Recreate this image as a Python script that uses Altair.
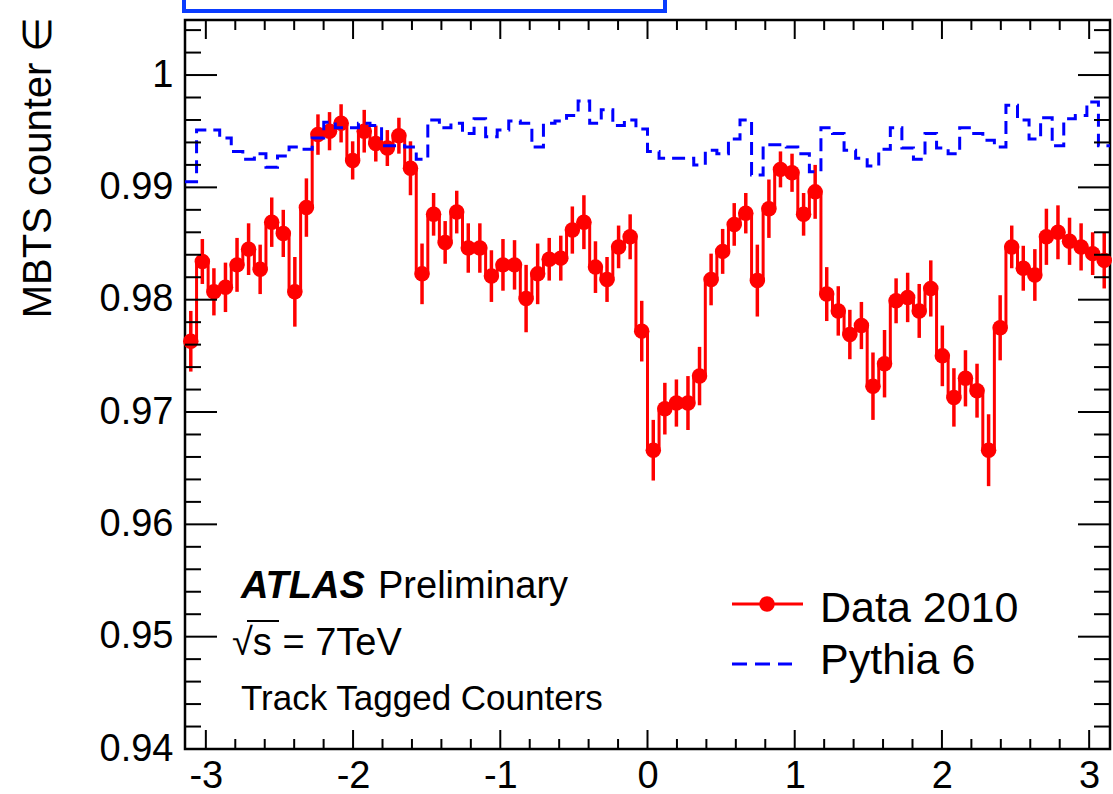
import altair as alt
import numpy as np
import pandas as pd

# MBTS counter efficiency per phi bin (80 bins over [-pi, pi])
eff = [0.9763, 0.9834, 0.9807, 0.9811, 0.9831, 0.9845, 0.9827, 0.9869, 0.9859, 0.9807,
       0.9882, 0.9947, 0.9950, 0.9957, 0.9924, 0.9950, 0.9939, 0.9935, 0.9946, 0.9917,
       0.9823, 0.9876, 0.9851, 0.9878, 0.9846, 0.9846, 0.9821, 0.9831, 0.9831, 0.9801,
       0.9823, 0.9836, 0.9837, 0.9862, 0.9869, 0.9829, 0.9818, 0.9847, 0.9856, 0.9772,
       0.9666, 0.9703, 0.9708, 0.9708, 0.9732, 0.9818, 0.9843, 0.9867, 0.9877, 0.9817,
       0.9881, 0.9916, 0.9913, 0.9876, 0.9896, 0.9805, 0.9790, 0.9769, 0.9777, 0.9723,
       0.9743, 0.9799, 0.9802, 0.9790, 0.9810, 0.9750, 0.9713, 0.9730, 0.9719, 0.9666,
       0.9775, 0.9847, 0.9828, 0.9822, 0.9856, 0.9860, 0.9852, 0.9847, 0.9841, 0.9835]

eff_err = [0.0027, 0.0020, 0.0021, 0.0022, 0.0024, 0.0023, 0.0022, 0.0022, 0.0021, 0.0031,
           0.0026, 0.0018, 0.0017, 0.0017, 0.0017, 0.0019, 0.0016, 0.0016, 0.0016, 0.0024,
           0.0027, 0.0019, 0.0019, 0.0019, 0.0022, 0.0022, 0.0023, 0.0023, 0.0022, 0.0030,
           0.0027, 0.0019, 0.0020, 0.0021, 0.0024, 0.0023, 0.0020, 0.0019, 0.0020, 0.0027,
           0.0027, 0.0023, 0.0021, 0.0024, 0.0026, 0.0023, 0.0020, 0.0019, 0.0018, 0.0032,
           0.0026, 0.0016, 0.0017, 0.0019, 0.0024, 0.0024, 0.0022, 0.0022, 0.0021, 0.0030,
           0.0030, 0.0020, 0.0022, 0.0024, 0.0025, 0.0027, 0.0026, 0.0025, 0.0024, 0.0032,
           0.0029, 0.0019, 0.0020, 0.0023, 0.0025, 0.0024, 0.0021, 0.0021, 0.0019, 0.0025]

# Pythia 6 simulation, same binning
pythia = [0.9905, 0.9951, 0.9951, 0.9944, 0.9932, 0.9925, 0.9930, 0.9918, 0.9928, 0.9936,
          0.9934, 0.9944, 0.9958, 0.9953, 0.9953, 0.9957, 0.9955, 0.9937, 0.9937, 0.9936,
          0.9925, 0.9960, 0.9953, 0.9957, 0.9948, 0.9961, 0.9945, 0.9951, 0.9959, 0.9957,
          0.9936, 0.9957, 0.9959, 0.9964, 0.9977, 0.9957, 0.9969, 0.9955, 0.9960, 0.9952,
          0.9932, 0.9926, 0.9926, 0.9926, 0.9920, 0.9933, 0.9930, 0.9943, 0.9960, 0.9911,
          0.9938, 0.9938, 0.9936, 0.9930, 0.9914, 0.9953, 0.9948, 0.9933, 0.9926, 0.9919,
          0.9934, 0.9953, 0.9935, 0.9925, 0.9948, 0.9935, 0.9930, 0.9953, 0.9948, 0.9942,
          0.9936, 0.9973, 0.9960, 0.9943, 0.9962, 0.9937, 0.9961, 0.9964, 0.9976, 0.9937]

X_MAJOR = [-3, -2, -1, 0, 1, 2, 3]
Y_MAJOR = [0.94, 0.95, 0.96, 0.97, 0.98, 0.99, 1.0]

N_BINS = len(eff)
edges = np.linspace(-np.pi, np.pi, N_BINS + 1)
centers = 0.5 * (edges[:-1] + edges[1:])

x_minor = [round(v, 1) for v in np.arange(-3.0, 3.01, 0.2) if abs(v - round(v)) > 1e-6]
y_minor = [round(v, 3) for v in np.arange(0.942, 1.0045, 0.002)
           if abs(v * 100 - round(v * 100)) > 1e-6]

W, H = 925, 729
FONT = "Liberation Sans"
RED = "#ff0000"
BLUE = "#0000ff"

points = pd.DataFrame({
    "phi": centers,
    "eff": eff,
    "lo": np.array(eff) - np.array(eff_err),
    "hi": np.array(eff) + np.array(eff_err),
})
steps = pd.DataFrame({
    "edge": edges,
    "eff": eff + [eff[-1]],
    "mc": pythia + [pythia[-1]],
})

xs = alt.Scale(domain=[-np.pi, np.pi], nice=False, zero=False)
ys = alt.Scale(domain=[0.94, 1.0049], nice=False, zero=False)

x_axis = alt.Axis(
    values=X_MAJOR, ticks=False, domain=False, grid=False, title=None,
    labelFont=FONT, labelFontSize=38, labelPadding=8, labelColor="black",
    labelExpr="datum.value < 0 ? '-' + abs(datum.value) : '' + datum.value",
)
y_axis = alt.Axis(
    values=Y_MAJOR, ticks=False, domain=False, grid=False, format=".2~f",
    labelFont=FONT, labelFontSize=38, labelPadding=12, labelColor="black",
    title="MBTS counter \u2208", titleFont=FONT, titleFontSize=40,
    titleFontWeight="normal", titleColor="black", titleAngle=270,
    titleAlign="right", titleBaseline="alphabetic", titleX=-135, titleY=-4,
)


def X(field):
    return alt.X(field, scale=xs, axis=x_axis)


def Y(field):
    return alt.Y(field, scale=ys, axis=y_axis)


# data: histogram-style step line, error bars, markers
data_line = alt.Chart(steps).mark_line(
    interpolate="step-after", color=RED, strokeWidth=3
).encode(x=X("edge:Q"), y=Y("eff:Q"))
err_bars = alt.Chart(points).mark_rule(color=RED, strokeWidth=3.5).encode(
    x=X("phi:Q"), y=Y("lo:Q"), y2="hi:Q")
markers = alt.Chart(points).mark_circle(size=240, color=RED, opacity=1).encode(
    x=X("phi:Q"), y=Y("eff:Q"))
mc_line = alt.Chart(steps).mark_line(
    interpolate="step-after", color=BLUE, strokeWidth=3, strokeDash=[13, 7]
).encode(x=X("edge:Q"), y=Y("mc:Q"))


# inward ticks on all four sides
def xticks(vals, length):
    df = pd.DataFrame({"t": vals})
    bottom = alt.Chart(df).mark_rule(color="black", strokeWidth=2).encode(
        x=X("t:Q"), y=alt.value(H), y2=alt.value(H - length))
    top = alt.Chart(df).mark_rule(color="black", strokeWidth=2).encode(
        x=X("t:Q"), y=alt.value(0), y2=alt.value(length))
    return [bottom, top]


def yticks(vals, length):
    df = pd.DataFrame({"t": vals})
    left = alt.Chart(df).mark_rule(color="black", strokeWidth=2).encode(
        y=Y("t:Q"), x=alt.value(0), x2=alt.value(length))
    right = alt.Chart(df).mark_rule(color="black", strokeWidth=2).encode(
        y=Y("t:Q"), x=alt.value(W), x2=alt.value(W - length))
    return [left, right]


tick_layers = (xticks(X_MAJOR, 19) + xticks(x_minor, 10)
               + yticks(Y_MAJOR, 32) + yticks(y_minor, 16))

one = pd.DataFrame({"k": [0]})


def label(text, x, y, size, **kw):
    return alt.Chart(one).mark_text(
        text=text, font=FONT, fontSize=size, align="left", baseline="alphabetic",
        color="black", **kw
    ).encode(x=alt.value(x), y=alt.value(y))


annotations = [
    label("ATLAS", 56, 578, 38, fontWeight="bold", fontStyle="italic"),
    label("Preliminary", 193, 578, 38),
    label("\u221As = 7TeV", 47, 635, 38),
    label("Track Tagged Counters", 56, 690, 35),
    label("Data 2010", 635, 602, 43),
    label("Pythia 6", 635, 654, 43),
]

# overline of the square root
sqrt_bar = alt.Chart(one).mark_rule(color="black", strokeWidth=2).encode(
    x=alt.value(62), x2=alt.value(94), y=alt.value(601))

legend_red = alt.Chart(one).mark_rule(color=RED, strokeWidth=3).encode(
    x=alt.value(547), x2=alt.value(618), y=alt.value(584))
legend_dot = alt.Chart(one).mark_circle(size=240, color=RED, opacity=1).encode(
    x=alt.value(582), y=alt.value(584))
legend_blue = alt.Chart(one).mark_rule(
    color=BLUE, strokeWidth=3, strokeDash=[15, 8]
).encode(x=alt.value(547), x2=alt.value(607), y=alt.value(644))

# box partly outside the top of the frame
top_box = alt.Chart(one).mark_rect(
    fill="white", stroke="#0a3cff", strokeWidth=4
).encode(x=alt.value(-1), x2=alt.value(480), y=alt.value(-40), y2=alt.value(-9))

chart = alt.layer(
    err_bars, data_line, markers, mc_line, *tick_layers, *annotations,
    sqrt_bar, legend_red, legend_dot, legend_blue, top_box,
).properties(
    width=W, height=H,
    padding={"left": 185, "top": 20, "right": 3, "bottom": 45},
    autosize=alt.AutoSizeParams(type="none"),
    background="white",
).configure_view(stroke="black", strokeWidth=2.5)

chart.save("out.html", embed_options={"renderer": "svg", "actions": False})
